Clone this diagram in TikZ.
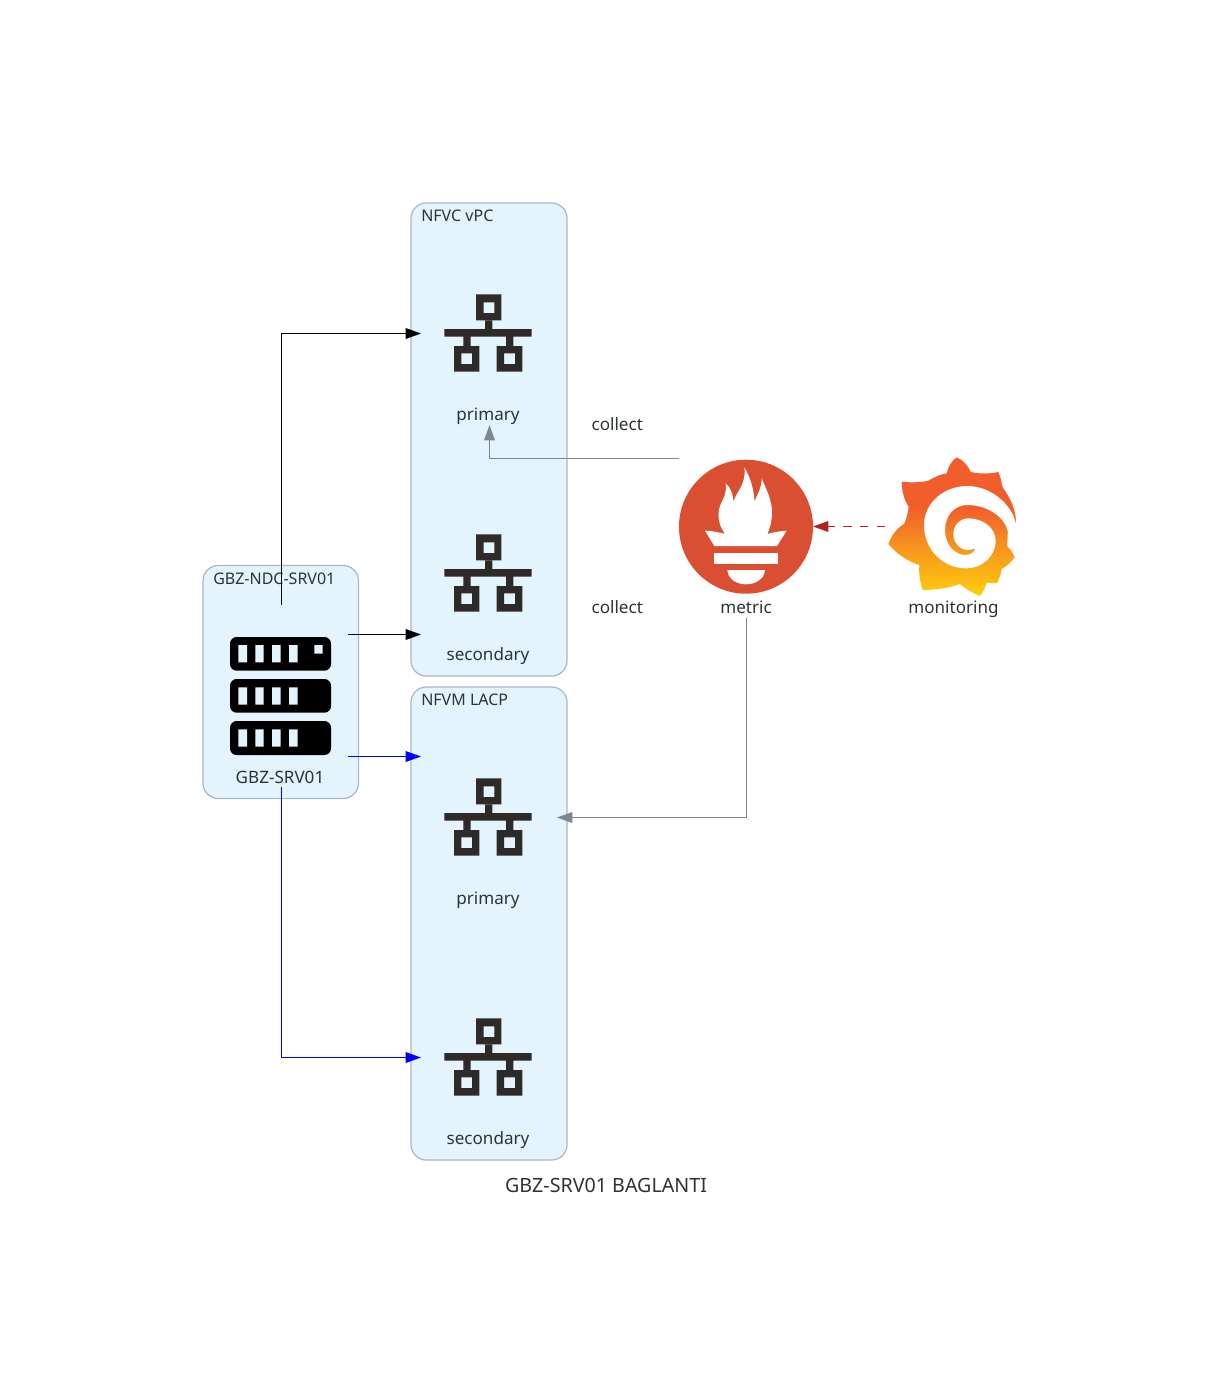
\documentclass[tikz,border=0pt]{standalone}
\usepackage{fontspec}
\setmainfont{Noto Sans}
\usetikzlibrary{arrows.meta}
\definecolor{grpfill}{HTML}{E3F4FD}
\definecolor{grpline}{HTML}{A9B7C4}
\definecolor{txt}{HTML}{2D3436}
\definecolor{iconc}{HTML}{2D2A28}
\definecolor{grayc}{HTML}{7B8793}
\definecolor{redc}{HTML}{B22222}
\definecolor{prom}{HTML}{DA4E31}
\definecolor{graftop}{HTML}{F15D2B}
\definecolor{grafmid}{HTML}{F7931E}
\definecolor{grafbot}{HTML}{FDCB0C}
\pgfdeclareverticalshading{grafshade}{100bp}{color(0bp)=(grafbot); color(26bp)=(grafbot); color(43bp)=(grafmid); color(57bp)=(graftop); color(100bp)=(graftop)}
\tikzset{
  x=0.75pt,y=-0.75pt,
  grp/.style={draw=grpline,fill=grpfill,line width=0.9pt,rounded corners=11.5pt},
  lbl/.style={text=txt,font=\fontsize{12.8}{15}\selectfont,anchor=base,inner sep=0pt},
  grplbl/.style={text=txt,font=\fontsize{12}{14}\selectfont,anchor=base west,inner sep=0pt},
  ttl/.style={text=txt,font=\fontsize{14.75}{17}\selectfont,anchor=base,inner sep=0pt},
  conn/.style={line width=0.9pt,-{Triangle[length=11.5pt,width=8pt]}},
  neticon/.pic={
    \fill[iconc,even odd rule]
      (31.7,0) rectangle (57,26) (39.4,8) rectangle (50,18.7)
      (9.7,51.7) rectangle (35,77.4) (17,59) rectangle (27.7,69.7)
      (52.4,51.7) rectangle (78,77.4) (59.7,59) rectangle (70.7,69.7);
    \fill[iconc]
      (0,34.7) rectangle (87.4,42.4)
      (40.7,26) rectangle (48,34.7)
      (19,42.4) rectangle (26.4,51.7)
      (61.7,42.4) rectangle (69,51.7);
  }
}
\newcommand{\srvwin}[1]{%
  (238.3,#1) rectangle (247,#1+17.4)
  (255.3,#1) rectangle (263.7,#1+17.4)
  (272,#1) rectangle (280.7,#1+17.4)
  (289,#1) rectangle (297.7,#1+17.4)}
\begin{document}
\begin{tikzpicture}
\useasboundingbox (0,0) rectangle (1213,1396);
\fill[white] (0,0) rectangle (1213,1396);
% groups
\path[grp] (203,565.5) rectangle (358.5,798.5);
\path[grp] (411,203) rectangle (567,676);
\path[grp] (411,687) rectangle (567,1160);
\node[grplbl] (gsrv) at (213,584.3) {GBZ-NDC-SRV01};
\node[grplbl] (gvpc) at (421,221.3) {NFVC vPC};
\node[grplbl] (glacp) at (421,705.3) {NFVM LACP};
% network icons
\pic at (444.3,294.3) {neticon};
\pic at (444.3,534.3) {neticon};
\pic at (444.3,778.3) {neticon};
\pic at (444.3,1018.3) {neticon};
% server icon
\fill[black,rounded corners=5pt] (230,637) rectangle (331,670.7);
\fill[black,rounded corners=5pt] (230,679) rectangle (331,712.7);
\fill[black,rounded corners=5pt] (230,721) rectangle (331,755);
\fill[grpfill] \srvwin{645} (314.3,645) rectangle (322.7,653.7);
\fill[grpfill] \srvwin{687.3};
\fill[grpfill] \srvwin{729.3};
% prometheus
\fill[prom] (746,526.7) circle (67);
\begin{scope}[shift={(695,460)},xscale=1/3,yscale=1/3]
  \fill[white] (58,258) -- (30,212) .. controls (50,212) and (72,217) .. (90,222)
    .. controls (78,205) and (68,182) .. (71,155)
    .. controls (74,125) and (98,110) .. (92,70)
    .. controls (106,82) and (114,100) .. (115,125)
    .. controls (125,95) and (155,70) .. (148,22)
    .. controls (165,50) and (178,90) .. (178,125)
    .. controls (186,105) and (200,85) .. (200,55)
    .. controls (212,85) and (232,120) .. (231,160)
    .. controls (230,185) and (225,205) .. (217,222)
    .. controls (235,217) and (255,213) .. (275,212)
    -- (246,258) -- cycle;
  \fill[white] (58,279) rectangle (248,312);
  \fill[white] (97,330) -- (210,330) .. controls (208,358) and (180,373) .. (153,373)
    .. controls (126,373) and (99,358) .. (97,330) -- cycle;
\end{scope}
% grafana
\begin{scope}[shift={(880,450)},xscale=1/3,yscale=1/3]
  \path[shading=grafshade]
    (230,22) .. controls (250,30) and (265,48) .. (272,66)
    .. controls (300,72) and (330,72) .. (355,66)
    .. controls (362,80) and (364,98) .. (368,112)
    .. controls (392,145) and (410,185) .. (408,222)
    -- (383,250) -- (382,290)
    .. controls (392,298) and (400,310) .. (404,322)
    .. controls (392,338) and (378,350) .. (365,357)
    .. controls (363,372) and (358,385) .. (352,398)
    .. controls (340,402) and (328,398) .. (320,398)
    .. controls (316,412) and (308,428) .. (300,438)
    .. controls (280,430) and (258,418) .. (240,402)
    .. controls (205,414) and (165,420) .. (128,420)
    .. controls (120,395) and (116,370) .. (118,345)
    .. controls (85,335) and (50,312) .. (25,282)
    .. controls (35,255) and (50,235) .. (72,222)
    .. controls (82,200) and (85,180) .. (86,170)
    .. controls (72,150) and (65,120) .. (65,95)
    .. controls (90,98) and (120,98) .. (145,92)
    .. controls (165,80) and (185,72) .. (200,70)
    .. controls (205,50) and (215,32) .. (230,22) -- cycle;
  \fill[white] (408,222)
    .. controls (395,160) and (330,108) .. (262,108)
    .. controls (190,108) and (132,160) .. (132,225)
    .. controls (132,300) and (190,355) .. (258,355)
    .. controls (305,355) and (347,320) .. (347,272)
    .. controls (347,235) and (310,205) .. (265,205)
    .. controls (238,205) and (220,228) .. (220,252)
    .. controls (220,278) and (240,299) .. (262,300)
    .. controls (270,300) and (280,298) .. (286,295)
    .. controls (284,306) and (272,315) .. (256,315)
    .. controls (225,315) and (195,285) .. (195,240)
    .. controls (195,195) and (225,165) .. (262,165)
    .. controls (325,165) and (380,205) .. (384,250)
    -- (420,250) -- cycle;
\end{scope}
% labels
\node[lbl] (p1) at (488,420) {primary};
\node[lbl] (s1) at (488,660) {secondary};
\node[lbl] (p2) at (488,904) {primary};
\node[lbl] (s2) at (488,1144) {secondary};
\node[lbl] (srv) at (280,783.5) {GBZ-SRV01};
\node[lbl] (c1) at (617.3,430) {collect};
\node[lbl] (c2) at (617.3,613) {collect};
\node[lbl] (metric) at (746,613) {metric};
\node[lbl] (mon) at (953.5,613) {monitoring};
\node[ttl] (title) at (606,1192.5) {GBZ-SRV01 BAGLANTI};
% connector ends
\coordinate (srvTop) at (281.5,605);
\coordinate (srvRight) at (347.5,634.5);
\coordinate (srvRightB) at (347.5,756.5);
\coordinate (srvBot) at (281.5,787);
\coordinate (vpcP) at (421,333.5);
\coordinate (vpcS) at (421,634.5);
\coordinate (lacpP) at (421,756.5);
\coordinate (lacpS) at (421,1057.5);
\coordinate (promL) at (679,458.5);
\coordinate (vpcPin) at (489.5,425);
\coordinate (promB) at (746.5,618);
\coordinate (lacpPin) at (557,817.5);
\coordinate (grafL) at (885,526.5);
\coordinate (promR) at (813,526.5);
% connectors
\draw[conn,black] (srvTop) |- (vpcP);
\draw[conn,black] (srvRight) -- (vpcS);
\draw[conn,blue] (srvRightB) -- (lacpP);
\draw[conn,blue] (srvBot) |- (lacpS);
\draw[conn,grayc] (promL) -| (vpcPin);
\draw[conn,grayc] (promB) |- (lacpPin);
\draw[conn,redc,dash pattern=on 6.25pt off 6.25pt] (grafL) -- (promR);
\end{tikzpicture}
\end{document}
